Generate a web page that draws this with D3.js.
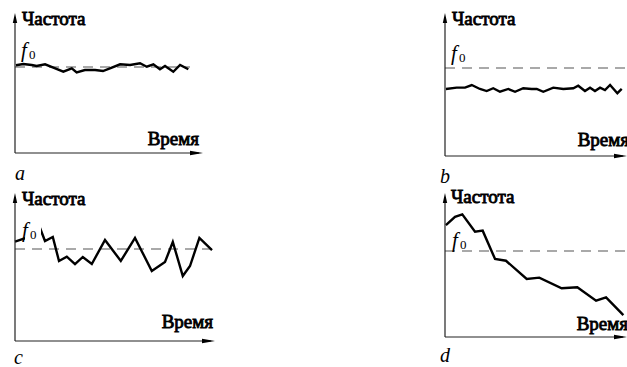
<!DOCTYPE html>
<html><head><meta charset="utf-8">
<script src="https://cdn.jsdelivr.net/npm/d3@7"></script>
</head><body style="margin:0">
<script>
// ---- data (time in %, frequency in relative units, f0 = 60) ----
const yLabel = "Частота";
const xLabel = "Время";
const f0 = 60;
const panelLetters = ["a", "b", "c", "d"];

const timeA = [0.5,4.4,8.9,11.5,16.0,20.4,25.7,30.2,32.8,37.2,42.6,46.8,50.5,55.9,61.2,66.5,70.1,73.6,77.1,79.8,84.2,87.8,92.2];
const freqA = [61.2,62.1,61.4,60.7,61.9,59.5,56.7,59.1,56.3,57.9,57.9,57.2,59.1,61.9,61.4,62.6,60.2,61.9,58.4,60.7,56.7,61.4,58.4];

const timeB = [0.5,6.4,11.0,14.7,19.2,22.9,26.5,30.2,34.8,38.5,43.0,47.6,50.4,54.0,59.5,65.0,70.5,73.2,76.9,79.7,82.4,85.2,87.9,90.7,94.7,97.1];
const freqB = [45.7,46.6,46.6,48.4,45.7,44.3,46.2,43.8,45.7,43.8,46.2,45.7,45.7,43.8,46.6,45.7,46.2,47.9,44.3,46.6,44.3,46.6,45.0,48.4,42.8,45.7];

const timeC = [0,5.5,12.5,15,18.9,22,25.9,30,33.9,38.4,45,52.9,60,68.4,75,78.9,83.9,87.5,92.2,98.5];
const freqC = [64.8,67.2,73.7,65.2,67.8,52.2,55.0,50.2,54.8,50.2,65.9,52.2,67.2,45.7,51.5,64.6,42.4,48.9,67.2,59.3];

const timeD = [0.5,5.5,9.5,16.5,20.7,27.5,33.5,44.9,51.8,64.1,72.7,83.0,88.5,98.0];
const freqD = [78.1,83.9,85.6,73.5,74.2,54.4,53.2,40.5,41.4,34.0,34.7,25.3,27.7,15.3];

// ---- layout ----
const W = 627, H = 367;
const svg = d3.select("body").append("svg").attr("width", W).attr("height", H)
  .style("display", "block").style("background", "#fff");
const FONT = '"Liberation Serif", "FreeSerif", "Tinos", "Times New Roman", serif';

const panels = [
  {t: timeA, f: freqA, ox: 15,  oy: 153, top: 13,  xEnd: 203, dashY: 67,  dashEnd: 190, letter: [15, 180], yl: [22, 25],  f0l: [21, 57], xl: [199, 145], knock: false},
  {t: timeB, f: freqB, ox: 445, oy: 156, top: 13,  xEnd: 627, dashY: 68,  dashEnd: 627, letter: [440, 183], yl: [452, 25], f0l: [451, 60], xl: [629, 146], knock: false},
  {t: timeC, f: freqC, ox: 15,  oy: 341, top: 193, xEnd: 215, dashY: 249, dashEnd: 214, letter: [14, 364], yl: [22, 205], f0l: [22, 237], xl: [213, 328], knock: true},
  {t: timeD, f: freqD, ox: 445, oy: 337, top: 193, xEnd: 627, dashY: 251, dashEnd: 626, letter: [440, 362], yl: [451, 203], f0l: [452, 247], xl: [628, 330], knock: false}
];

function txt(g, x, y, s, size, opts) {
  const t = g.append("text").attr("x", x).attr("y", y)
    .style("font-family", FONT)
    .style("font-weight", "normal")
    .style("font-style", opts.italic ? "italic" : "normal")
    .style("font-size", size + "px")
    .attr("fill", "#000")
    .text(s);
  if (opts.bold) t.attr("stroke", "#000").attr("stroke-width", 0.85);
  if (opts.anchor) t.attr("text-anchor", opts.anchor);
  return t;
}

panels.forEach((p, i) => {
  const g = svg.append("g");
  const x = d3.scaleLinear().domain([0, 100]).range([p.ox, p.xEnd]);
  const y = d3.scaleLinear().domain([0, f0]).range([p.oy, p.dashY]);

  g.append("line")
    .attr("x1", p.ox).attr("x2", p.dashEnd)
    .attr("y1", y(f0)).attr("y2", y(f0))
    .attr("stroke", "#555").attr("stroke-width", 1.2)
    .attr("stroke-dasharray", "10,7");

  const pts = p.t.map((t, k) => [t, p.f[k]]);
  g.append("path")
    .attr("d", d3.line().x(d => x(d[0])).y(d => y(d[1]))(pts))
    .attr("fill", "none").attr("stroke", "#000")
    .attr("stroke-width", 2.4).attr("stroke-linejoin", "miter");

  const f0g = g.append("g").attr("transform", `translate(${p.f0l[0]},${p.f0l[1]})`);
  if (p.knock) {
    f0g.append("rect").attr("x", 3).attr("y", -16).attr("width", 16).attr("height", 19).attr("fill", "#fff");
  }
  txt(f0g, 0, 0, "f", 21, {italic: true});
  txt(f0g, 8, 2, "0", 13, {});

  g.append("line").attr("x1", p.ox).attr("x2", p.ox).attr("y1", p.oy).attr("y2", p.top + 4)
    .attr("stroke", "#222").attr("stroke-width", 1.2);
  g.append("line").attr("x1", p.ox).attr("x2", p.xEnd - 4).attr("y1", p.oy).attr("y2", p.oy)
    .attr("stroke", "#222").attr("stroke-width", 1.2);
  g.append("path")
    .attr("d", `M${p.ox},${p.top} L${p.ox + 2.2},${p.top + 10} L${p.ox - 2.2},${p.top + 10} Z`)
    .attr("fill", "#000");
  g.append("path")
    .attr("d", `M${p.xEnd},${p.oy} L${p.xEnd - 13},${p.oy - 2.3} L${p.xEnd - 13},${p.oy + 2.3} Z`)
    .attr("fill", "#000");

  txt(g, p.yl[0], p.yl[1], yLabel, 19, {bold: true});
  txt(g, p.xl[0], p.xl[1], xLabel, 19, {bold: true, anchor: "end"});
  txt(g, p.letter[0], p.letter[1], panelLetters[i], 20, {italic: true});
});
</script>
</body></html>
